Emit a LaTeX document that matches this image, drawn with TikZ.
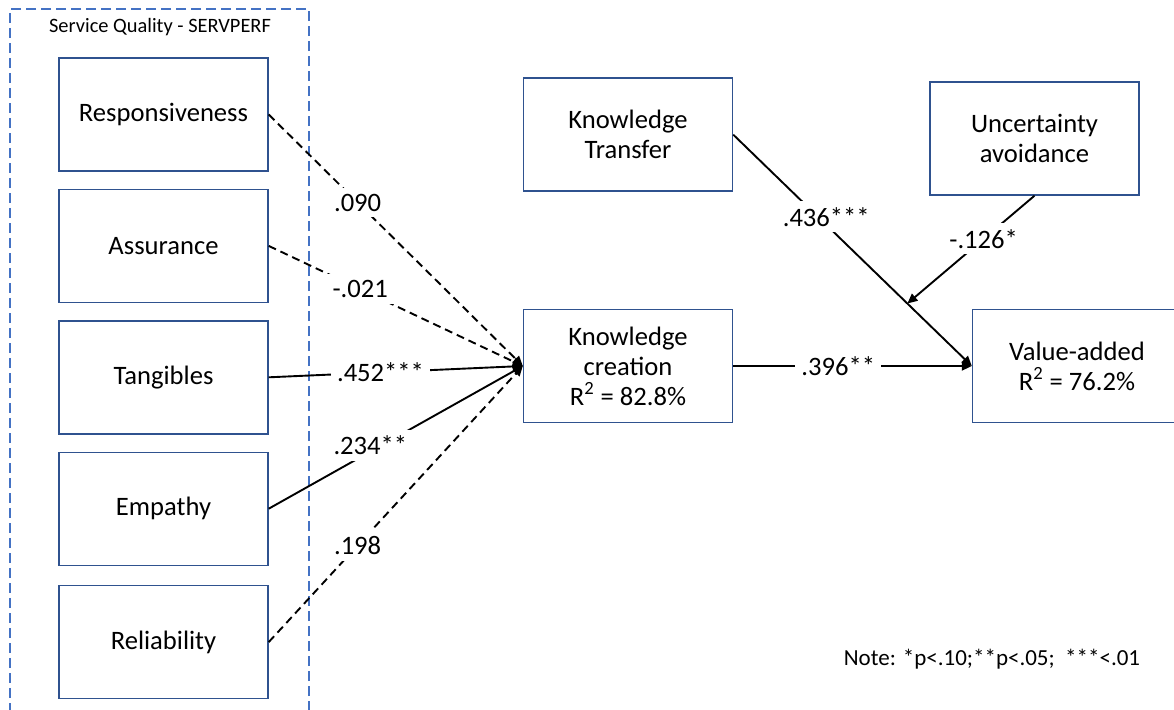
\documentclass[tikz,border=0pt]{standalone}
\usepackage{fontspec}
\setmainfont{Carlito}
\usetikzlibrary{positioning,arrows.meta,calc}
\definecolor{boxblue}{RGB}{47,82,143}
\definecolor{dashblue}{RGB}{68,114,196}

\begin{document}
\begin{tikzpicture}[x=0.5pt,y=-0.5pt,font=\fontsize{13.3}{15}\selectfont,
    box/.style={draw=boxblue,line width=0.7pt,minimum width=104.5pt,minimum height=56.5pt,align=center,inner sep=2pt},
    link/.style={draw,line width=0.95pt,-{Triangle[length=5pt,width=4.5pt]}},
    weak/.style={link,dash pattern=on 4pt off 2.5pt},
    coef/.style={fill=white,inner sep=3pt}]
    \useasboundingbox (0,0) rectangle (1174,709);
    % SERVPERF group
    \node[draw=dashblue,line width=0.6pt,dash pattern=on 5pt off 2.5pt,minimum width=149.5pt,minimum height=351.5pt,inner sep=0pt] (servperf) at (159.5,360.5) {};
    \node[font=\fontsize{10.2}{12}\selectfont] (sqtitle) at (160,27) {Service Quality - SERVPERF};
    \node[box] (resp) at (163.5,114.5) {Responsiveness};
    \node[box,below=8.5pt of resp] (assur) {Assurance};
    \node[box,below=8.5pt of assur] (tang) {Tangibles};
    \node[box,below=8.5pt of tang] (emp) {Empathy};
    \node[box,below=9.5pt of emp] (rel) {Reliability};
    % outcome side
    \node[box] (kc) at (628,366) {Knowledge\\creation\\R\textsuperscript{2} = 82.8\%};
    \node[box,above=59.5pt of kc,yshift=-1pt] (kt) {Knowledge\\Transfer};
    \node[box] (va) at (1077,366) {Value-added\\R\textsuperscript{2} = 76.2\%};
    \node[box] (ua) at (1034.5,138.5) {Uncertainty\\avoidance};
    \node[font=\fontsize{11.5}{14}\selectfont] (note) at (992,659) {Note: *p<.10;**p<.05;\ \ ***<.01};
    % paths
    \draw[weak] (resp.east) -- node[coef,pos=0.35]{.090} (kc.west);
    \draw[weak] (assur.east) -- node[coef,pos=0.36]{-.021} (kc.west);
    \draw[link] (tang.east) -- node[coef,pos=0.44]{.452***} (kc.west);
    \draw[link] (emp.east) -- node[coef,pos=0.4,yshift=3pt]{.234**} (kc.west);
    \draw[weak] (rel.east) -- node[coef,pos=0.35]{.198} (kc.west);
    \draw[link] (kc.east) -- node[coef,pos=0.44]{.396**} (va.west);
    \draw[link] (kt.east) -- node[coef,pos=0.39,yshift=4pt]{.436***} (va.west);
    \coordinate (hit) at ($(kt.east)!0.73!(va.west)$);
    \draw[link] (ua.south) -- node[coef,pos=0.4]{-.126*} (hit);
\end{tikzpicture}
\end{document}
